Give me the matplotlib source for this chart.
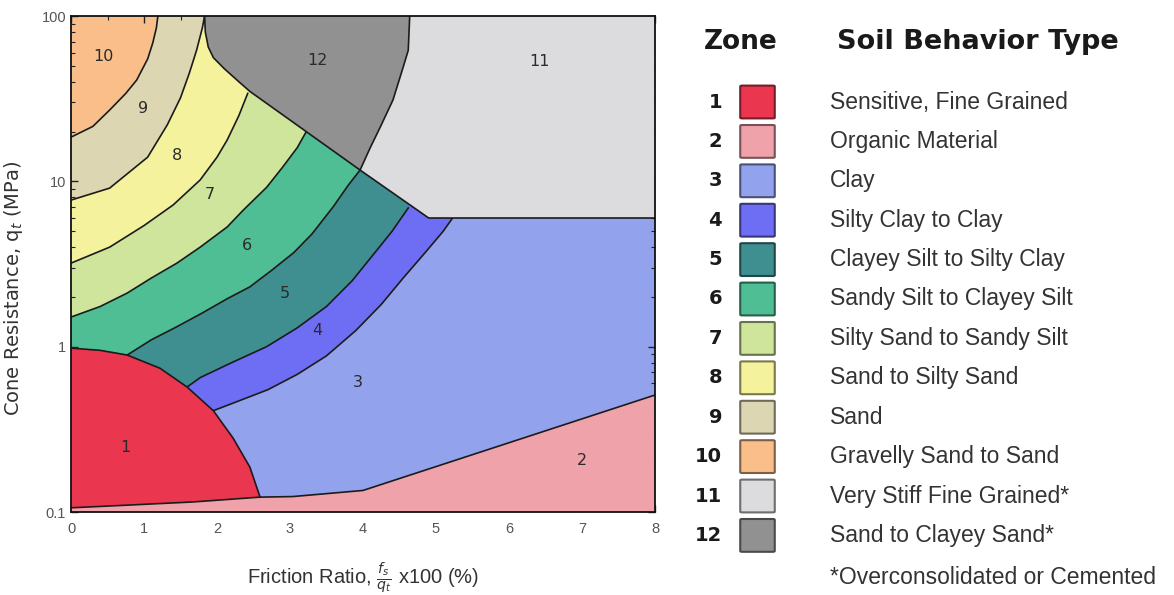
import matplotlib.pyplot as plt
import matplotlib.colors as mcolors
from matplotlib.patches import Polygon, FancyBboxPatch
from matplotlib.ticker import MultipleLocator, LogLocator, FuncFormatter, NullFormatter

plt.rcParams['font.family'] = ['Liberation Sans', 'DejaVu Sans']

# soil behaviour type zones
zone_ids = [1, 2, 3, 4, 5, 6, 7, 8, 9, 10, 11, 12]
zone_names = [
    "Sensitive, Fine Grained",
    "Organic Material",
    "Clay",
    "Silty Clay to Clay",
    "Clayey Silt to Silty Clay",
    "Sandy Silt to Clayey Silt",
    "Silty Sand to Sandy Silt",
    "Sand to Silty Sand",
    "Sand",
    "Gravelly Sand to Sand",
    "Very Stiff Fine Grained*",
    "Sand to Clayey Sand*",
]
zone_colors = [
    "#EB3650", "#F0A2AB", "#93A2EC", "#6E6EF4", "#3F8E90", "#4FBE95",
    "#CFE59C", "#F4F29C", "#DCD7B2", "#F9BE8A", "#DCDCDE", "#919191",
]

# zone boundaries: friction ratio Rf (%) against cone resistance qt (MPa)
b1_rf = [0.0, 0.40, 0.77, 1.22, 1.59, 1.95, 2.22, 2.45, 2.59]
b1_qt = [0.98, 0.95, 0.89, 0.74, 0.57, 0.41, 0.28, 0.187, 0.123]

base_rf = [0.0, 0.77, 1.67, 2.59]
base_qt = [0.106, 0.110, 0.115, 0.123]

b2_rf = [2.59, 3.04, 4.0, 8.0]
b2_qt = [0.123, 0.124, 0.135, 0.51]

b34_rf = [1.95, 2.3, 2.7, 3.1, 3.5, 3.9, 4.25, 4.55, 4.85, 5.1, 5.25]
b34_qt = [0.41, 0.47, 0.55, 0.68, 0.88, 1.25, 1.8, 2.6, 3.7, 5.0, 6.2]

b45_rf = [1.59, 1.77, 2.2, 2.68, 3.1, 3.5, 3.85, 4.14, 4.4, 4.62]
b45_qt = [0.57, 0.65, 0.80, 1.0, 1.3, 1.75, 2.5, 3.6, 5.0, 6.9]

b56_rf = [0.77, 1.1, 1.45, 1.8, 2.14, 2.45, 2.75, 3.05, 3.3, 3.59, 3.8, 3.96]
b56_qt = [0.89, 1.1, 1.32, 1.6, 1.95, 2.3, 2.9, 3.7, 4.8, 7.0, 9.5, 11.7]

b67_rf = [0.0, 0.4, 0.77, 1.1, 1.45, 1.77, 2.14, 2.36, 2.68, 2.9, 3.1, 3.25]
b67_qt = [1.51, 1.75, 2.11, 2.6, 3.2, 4.0, 5.3, 6.7, 9.2, 12.2, 16.0, 21.0]

b78_rf = [0.0, 0.53, 1.0, 1.4, 1.77, 2.0, 2.14, 2.3, 2.42]
b78_qt = [3.2, 4.0, 5.4, 7.2, 10.2, 14.0, 17.8, 25.0, 34.0]

b89_rf = [0.0, 0.53, 1.05, 1.32, 1.5, 1.62, 1.72, 1.8, 1.83]
b89_qt = [7.7, 9.1, 14.0, 22.0, 32.0, 45.0, 62.0, 85.0, 100.0]

b910_rf = [0.0, 0.3, 0.53, 0.75, 0.9, 1.05, 1.12, 1.17, 1.19]
b910_qt = [18.5, 21.5, 27.0, 34.0, 41.0, 55.0, 68.7, 85.0, 100.0]

z12_left_rf = [1.83, 1.84, 1.88, 1.95, 2.1, 2.3, 2.45]
z12_left_qt = [100.0, 80.0, 65.0, 56.0, 48.0, 40.0, 35.0]
z12_right_rf = [3.96, 4.10, 4.23, 4.41, 4.55, 4.62, 4.64]
z12_right_qt = [11.7, 16.0, 21.0, 31.0, 49.0, 62.0, 100.0]

z11_floor_rf = [3.96, 4.9, 8.0]
z11_floor_qt = [11.7, 6.0, 6.0]

# zone number positions
label_rf = [0.74, 7.0, 3.93, 3.38, 2.93, 2.41, 1.90, 1.45, 0.99, 0.45, 6.42, 3.38]
label_qt = [0.247, 0.206, 0.61, 1.26, 2.1, 4.1, 8.3, 14.4, 27.7, 56.5, 52.7, 54.0]

RF_MAX, Q_MIN, Q_MAX = 8.0, 0.1, 100.0
LINE = "#1b1b1b"

W, H = 1174, 595
fig = plt.figure(figsize=(W / 100, H / 100), dpi=100)
ax = fig.add_axes([71 / W, 1 - 512 / H, (655 - 71) / W, (512 - 16) / H])
ax.set_xscale("linear")
ax.set_yscale("log")
ax.set_xlim(0, RF_MAX)
ax.set_ylim(Q_MIN, Q_MAX)
ax.set_facecolor(zone_colors[2])


def col(z):
    return zone_colors[z - 1]


# nested bands, painted outward-in; each band is bounded by its lower-right curve
bands = [
    (4, b34_rf, b34_qt),
    (5, b45_rf, b45_qt),
    (6, b56_rf, b56_qt),
    (7, b67_rf, b67_qt),
    (8, b78_rf, b78_qt),
    (9, b89_rf, b89_qt),
    (10, b910_rf, b910_qt),
]
for z, rf, qt in bands:
    pts = list(zip(rf, qt)) + [(rf[-1], Q_MAX), (0, Q_MAX), (0, qt[0])]
    ax.add_patch(Polygon(pts, closed=True, fc=col(z), ec="none", zorder=1 + z * 0.01))
for z, rf, qt in bands:
    ax.plot(rf, qt, color=LINE, lw=1.2, zorder=2)

# zone 12 and zone 11
z12_pts = list(zip(z12_left_rf, z12_left_qt)) + list(zip(z12_right_rf, z12_right_qt))
ax.add_patch(Polygon(z12_pts, closed=True, fc=col(12), ec="none", zorder=3))
z11_pts = (list(zip(z12_right_rf[::-1], z12_right_qt[::-1]))
           + list(zip(z11_floor_rf[1:], z11_floor_qt[1:]))
           + [(RF_MAX, Q_MAX)])
ax.add_patch(Polygon(z11_pts, closed=True, fc=col(11), ec="none", zorder=3))
ax.plot(z12_left_rf + z12_right_rf, z12_left_qt + z12_right_qt, color=LINE, lw=1.2, zorder=4)
ax.plot(z11_floor_rf, z11_floor_qt, color=LINE, lw=1.2, zorder=4)

# zone 1 and zone 2 along the bottom
z1_pts = list(zip(b1_rf, b1_qt)) + list(zip(base_rf[::-1], base_qt[::-1]))
ax.add_patch(Polygon(z1_pts, closed=True, fc=col(1), ec="none", zorder=5))
z2_pts = (list(zip(base_rf, base_qt)) + list(zip(b2_rf[1:], b2_qt[1:]))
          + [(RF_MAX, 0.09), (0, 0.09)])
ax.add_patch(Polygon(z2_pts, closed=True, fc=col(2), ec="none", zorder=5))
ax.plot(b1_rf, b1_qt, color=LINE, lw=1.2, zorder=6)
ax.plot(base_rf + b2_rf[1:], base_qt + b2_qt[1:], color=LINE, lw=1.2, zorder=6)

for z, x, y in zip(zone_ids, label_rf, label_qt):
    ax.text(x, y, str(z), fontsize=11.5, color="#2a2a2a", ha="center", va="center",
            family="DejaVu Sans", zorder=7)

# axes, ticks, labels
for s in ax.spines.values():
    s.set_color("#111111")
    s.set_linewidth(1.3)
    s.set_zorder(8)
ax.xaxis.set_major_locator(MultipleLocator(1))
ax.xaxis.set_minor_locator(MultipleLocator(0.5))
ax.yaxis.set_major_locator(LogLocator(base=10))
ax.yaxis.set_minor_locator(LogLocator(base=10, subs=range(2, 10)))
ax.yaxis.set_major_formatter(FuncFormatter(lambda v, _: f"{v:g}"))
ax.yaxis.set_minor_formatter(NullFormatter())
ax.tick_params(which="both", direction="in", top=True, right=True,
               colors="#222222", labelcolor="#555555", labelsize=10.5)
ax.tick_params(which="major", length=5, width=1)
ax.tick_params(which="minor", length=3, width=0.8)
ax.tick_params(axis="x", pad=7)
ax.set_axisbelow(False)

ax.set_ylabel("Cone Resistance, q$_t$ (MPa)", fontsize=14, color="#333333",
              family="DejaVu Sans")
ax.yaxis.set_label_coords(-0.078, 0.45)
ax.set_xlabel(r"Friction Ratio, $\frac{f_s}{q_t}$ x100 (%)", fontsize=14.5, color="#333333")
ax.xaxis.set_label_coords(0.5, -0.098)


def fx(px):
    return px / W


def fy(py):
    return 1 - py / H


# zone key
fig.text(fx(741), fy(42), "Zone", fontsize=19, fontweight="bold", family="DejaVu Sans",
         ha="center", va="center", color="#1a1a1a")
fig.text(fx(978), fy(42), "Soil Behavior Type", fontsize=19.5, fontweight="bold",
         family="DejaVu Sans", ha="center", va="center", color="#1a1a1a")

row0, step = 102, 39.4
for i, (z, name, c) in enumerate(zip(zone_ids, zone_names, zone_colors)):
    yc = row0 + i * step
    fig.text(fx(722), fy(yc), str(z), fontsize=14, fontweight="bold", family="DejaVu Sans",
             ha="right", va="center", color="#1a1a1a")
    edge = tuple(v * 0.5 for v in mcolors.to_rgb(c))
    fig.patches.append(FancyBboxPatch((fx(742), fy(yc + 15.5)), fx(31), 31 / H,
                                      boxstyle="round,pad=0.0015", fc=c, ec=edge, lw=1.5,
                                      transform=fig.transFigure, figure=fig))
    fig.text(fx(830), fy(yc), name, fontsize=16.5, ha="left", va="center", color="#333333")

fig.text(fx(830), fy(577), "*Overconsolidated or Cemented", fontsize=16.5,
         ha="left", va="center", color="#333333")

fig.savefig("out.png", dpi=100, facecolor="white")
